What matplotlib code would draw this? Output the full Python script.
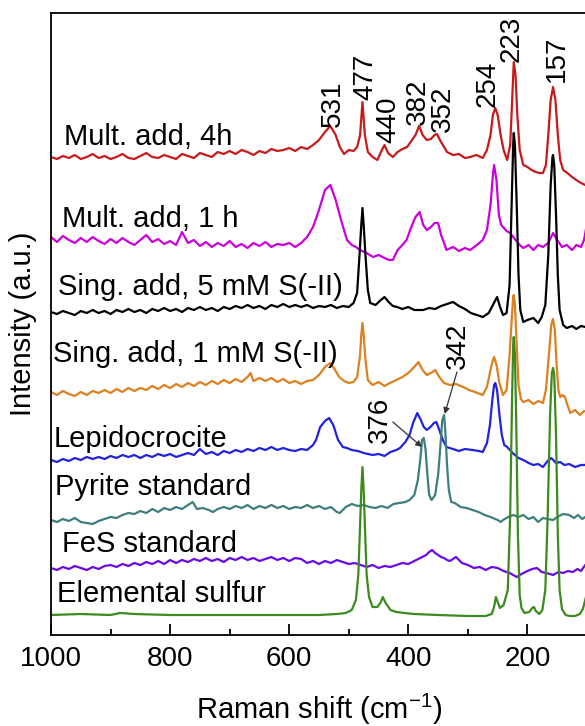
import matplotlib
matplotlib.use("Agg")
import matplotlib.pyplot as plt
from matplotlib.ticker import MultipleLocator

plt.rcParams['font.family'] = ['Liberation Sans', 'DejaVu Sans']
plt.rcParams['mathtext.default'] = 'regular'

# ---- data: (Raman shift cm-1, stacked intensity a.u.) ----
mult_4h = [(1000,478),(990,476),(980,479),(970,477),(960,480),(950,476),(940,478),(930,481),(920,477),(910,479),(900,476),(890,478),(880,481),(870,477),(860,476),(850,479),(840,482),(830,478),(820,477),(810,480),(800,478),(790,476),(780,481),(770,479),(760,477),(750,482),(740,480),(730,478),(720,483),(710,481),(700,484),(690,481),(680,485),(670,483),(660,480),(650,484),(640,482),(630,486),(620,484),(610,485),(600,487),(590,484),(580,488),(570,486),(560,490),(550,495),(540,503),(531,509),(522,500),(515,488),(508,481),(500,485),(492,484),(486,488),(481,500),(477,533),(473,500),(468,483),(460,478),(452,475),(446,483),(440,490),(434,482),(426,478),(418,483),(410,486),(402,488),(395,494),(388,500),(382,509),(376,500),(369,495),(362,496),(356,500),(352,501),(346,494),(340,488),(335,483),(325,480),(315,481),(305,477),(296,478),(286,480),(275,477),(268,485),(262,500),(258,520),(254,527),(250,520),(245,500),(240,485),(234,475),(229,490),(226,530),(223,573),(220,560),(217,520),(213,485),(207,470),(200,468),(193,465),(186,463),(180,462),(174,462),(169,470),(165,500),(161,535),(157,548),(153,535),(149,500),(145,475),(140,465),(133,462),(125,458),(118,455),(110,452),(103,450),(100,450)]

mult_1h = [(1000,398),(990,393),(980,399),(970,395),(960,392),(950,397),(940,393),(930,398),(920,394),(910,391),(900,396),(890,392),(880,397),(870,393),(860,390),(850,395),(840,400),(830,393),(820,396),(810,391),(800,394),(790,390),(780,403),(770,392),(760,395),(750,389),(740,393),(730,388),(720,392),(710,389),(700,394),(690,388),(680,391),(670,387),(660,392),(650,389),(640,393),(630,388),(620,391),(610,390),(600,392),(590,388),(580,392),(570,398),(560,408),(550,425),(540,445),(531,450),(522,435),(513,415),(503,395),(495,390),(488,388),(481,385),(470,382),(459,378),(450,380),(440,377),(432,375),(426,375),(418,385),(410,390),(403,395),(395,408),(388,418),(381,423),(375,410),(369,405),(362,408),(356,412),(350,412),(345,400),(340,392),(336,385),(325,388),(315,384),(305,387),(296,385),(285,390),(275,395),(268,405),(262,430),(258,460),(256,470),(252,455),(248,420),(244,410),(241,408),(235,404),(229,402),(220,395),(213,390),(207,387),(198,390),(190,385),(182,390),(174,388),(165,392),(157,402),(150,395),(142,388),(134,390),(125,385),(118,390),(110,388),(105,395),(102,405),(100,412)]

sing_5mM = [(1000,323),(990,321),(980,324),(970,322),(960,320),(950,324),(940,322),(930,325),(920,322),(910,324),(900,321),(890,325),(880,323),(870,326),(860,323),(850,325),(840,322),(830,326),(820,324),(810,327),(800,324),(790,326),(780,323),(770,327),(760,325),(750,328),(740,325),(730,327),(720,324),(710,328),(700,326),(690,329),(680,327),(670,330),(660,327),(650,329),(640,326),(630,330),(620,328),(610,331),(600,328),(590,330),(580,328),(570,330),(560,327),(550,329),(540,328),(530,330),(520,327),(510,329),(500,328),(492,332),(486,342),(482,380),(479,410),(477,427),(475,410),(472,380),(468,345),(464,332),(455,330),(448,334),(440,338),(433,333),(426,329),(419,328),(410,326),(400,328),(390,325),(375,325),(365,327),(355,326),(345,329),(335,331),(325,333),(315,329),(305,326),(295,322),(285,320),(275,318),(265,322),(258,330),(251,338),(246,328),(241,320),(235,322),(230,350),(227,420),(224,490),(223,502),(221,490),(218,430),(215,360),(212,325),(207,313),(200,315),(190,317),(182,312),(176,318),(170,330),(165,380),(161,450),(158,478),(157,480),(155,470),(152,420),(149,360),(146,325),(140,310),(134,307),(125,309),(118,306),(110,309),(103,308),(100,308)]

sing_1mM = [(1000,243),(990,240),(980,244),(970,241),(960,239),(950,243),(940,240),(930,244),(920,242),(910,245),(900,242),(890,246),(880,243),(870,247),(860,244),(850,247),(840,245),(830,249),(820,246),(810,250),(800,247),(790,251),(780,248),(770,252),(760,249),(750,253),(740,250),(730,254),(720,251),(710,255),(700,252),(690,256),(680,253),(670,258),(665,262),(660,254),(650,257),(640,254),(630,257),(620,253),(610,256),(600,252),(590,254),(580,251),(570,254),(560,255),(550,260),(540,268),(531,272),(524,266),(516,258),(508,254),(500,252),(492,253),(486,258),(481,280),(479,300),(477,312),(475,300),(472,275),(468,255),(460,250),(450,253),(440,249),(431,252),(420,255),(410,258),(400,262),(390,268),(383,273),(376,265),(369,260),(362,262),(355,265),(348,258),(340,252),(330,250),(320,251),(308,248),(298,245),(288,243),(275,240),(268,248),(262,265),(258,275),(256,278),(252,270),(247,252),(241,240),(235,245),(230,280),(226,320),(224,338),(223,340),(221,330),(218,290),(215,250),(211,236),(207,233),(198,235),(190,231),(182,234),(174,232),(169,245),(164,280),(160,310),(157,316),(154,305),(151,270),(148,245),(145,238),(141,240),(137,238),(134,232),(128,222),(120,225),(112,220),(105,224),(100,223)]

lepidocrocite = [(1000,175),(990,173),(980,176),(970,174),(960,177),(950,175),(940,178),(930,176),(920,178),(910,176),(900,179),(890,177),(880,180),(870,178),(860,180),(850,177),(840,180),(830,178),(820,181),(810,179),(800,181),(790,178),(780,180),(770,182),(760,180),(750,186),(740,181),(730,183),(720,180),(710,184),(700,182),(690,185),(680,183),(670,186),(660,184),(650,187),(640,185),(630,188),(620,185),(610,187),(600,185),(590,184),(580,186),(570,185),(560,190),(555,195),(548,208),(540,214),(533,217),(526,210),(518,195),(510,188),(503,187),(495,185),(485,184),(475,182),(460,180),(450,181),(440,179),(430,183),(420,185),(414,187),(405,193),(398,200),(392,212),(385,222),(379,215),(374,208),(369,205),(363,208),(357,212),(353,213),(348,205),(342,195),(336,188),(325,186),(315,184),(305,186),(292,185),(282,184),(275,183),(268,192),(263,210),(259,235),(256,250),(254,252),(251,245),(247,220),(243,200),(239,190),(234,188),(225,182),(215,177),(207,175),(198,172),(190,170),(182,171),(174,168),(166,174),(160,177),(152,172),(145,173),(138,170),(130,171),(120,168),(110,170),(103,170),(100,171)]

pyrite = [(1000,115),(990,113),(980,116),(970,114),(960,117),(950,113),(940,112),(930,111),(920,114),(910,116),(900,118),(890,117),(880,120),(870,122),(860,121),(850,124),(840,122),(830,126),(820,123),(810,127),(800,125),(790,128),(780,126),(770,130),(762,133),(755,126),(745,127),(735,125),(728,123),(720,126),(710,128),(700,126),(690,129),(680,127),(670,130),(660,126),(650,129),(640,127),(630,130),(620,127),(610,129),(600,126),(590,128),(580,127),(570,130),(560,127),(550,129),(540,126),(530,128),(520,123),(515,122),(505,128),(495,131),(485,129),(475,130),(465,128),(455,127),(445,129),(435,127),(425,131),(415,132),(405,133),(398,135),(390,140),(384,155),(380,175),(377,195),(374,197),(371,185),(368,160),(365,140),(361,135),(355,140),(350,160),(346,190),(343,215),(340,220),(338,205),(335,170),(332,145),(328,133),(322,132),(312,128),(302,127),(292,125),(282,123),(272,120),(262,118),(250,115),(245,113),(241,115),(232,118),(224,120),(215,118),(207,120),(198,116),(190,118),(182,113),(174,117),(166,116),(157,115),(150,118),(140,121),(130,120),(122,117),(115,120),(108,116),(103,118),(100,118)]

fes = [(1000,67),(990,65),(980,68),(970,66),(960,69),(950,67),(940,65),(930,68),(920,66),(910,69),(900,70),(890,68),(880,71),(870,69),(860,72),(850,70),(840,73),(830,71),(820,74),(810,71),(800,75),(790,72),(780,75),(770,73),(760,76),(750,74),(740,77),(730,74),(720,76),(710,73),(700,77),(690,75),(680,78),(670,75),(660,77),(650,74),(640,76),(630,78),(620,75),(610,77),(600,74),(590,77),(580,76),(570,72),(560,74),(550,71),(540,74),(530,72),(520,75),(510,73),(500,71),(490,72),(480,70),(470,68),(460,70),(450,67),(440,69),(430,68),(420,70),(410,72),(400,71),(390,74),(380,77),(370,80),(365,83),(360,85),(355,82),(350,80),(345,78),(340,77),(335,75),(330,74),(325,76),(320,78),(315,75),(310,72),(300,70),(290,67),(280,68),(270,65),(260,68),(250,67),(240,64),(230,62),(224,60),(218,58),(210,61),(200,64),(192,66),(184,67),(176,63),(168,62),(157,60),(148,63),(140,62),(132,64),(124,63),(116,66),(110,64),(103,70),(100,70)]

sulfur = [(1000,20),(950,21),(900,20),(884,22),(860,21),(800,20),(700,20),(600,20),(550,20),(520,21),(505,22),(495,25),(488,35),(484,60),(481,110),(479,145),(477,168),(475,145),(473,110),(470,60),(466,38),(460,28),(452,28),(446,33),(443,38),(438,32),(430,25),(420,23),(407,22),(390,21),(350,20),(300,19),(270,19),(260,21),(256,28),(253,38),(250,33),(246,27),(240,30),(233,45),(229,120),(226,230),(224,290),(223,298),(221,280),(219,220),(216,100),(213,40),(210,27),(205,22),(197,23),(192,27),(189,28),(186,24),(180,21),(175,25),(170,45),(166,120),(162,220),(159,262),(157,267),(155,260),(152,200),(149,100),(146,45),(142,26),(136,20),(129,19),(120,19),(112,21),(107,26),(103,35),(100,42)]

series_labels = ["Mult. add, 4h", "Mult. add, 1 h", "Sing. add, 5 mM S(-II)",
                 "Sing. add, 1 mM S(-II)", "Lepidocrocite", "Pyrite standard",
                 "FeS standard", "Elemental sulfur"]
peak_labels = ["531", "477", "440", "382", "352", "254", "223", "157"]
pyrite_peak_labels = ["376", "342"]
x_ticks = [1000, 800, 600, 400, 200]

# ---- drawing ----
spectra = [mult_4h, mult_1h, sing_5mM, sing_1mM, lepidocrocite, pyrite, fes, sulfur]
colors = ["#C81A1A", "#CC00DD", "#000000", "#DD8020", "#2222E0",
          "#3E7E7E", "#6A0AE6", "#3C8A1E"]
label_pos = [(978, 145), (982, 227), (988, 295), (996, 362), (996, 447),
             (994, 495), (982, 552), (990, 602)]   # (x in data, baseline y in px)

fig = plt.figure(figsize=(5.85, 7.26), dpi=100)
H = 726
ax = fig.add_axes([51/585, 91/H, 536/585, 622/H])
ax.set_xlim(1000, 100)
ax.set_ylim(0, 622)

def py(p):  # pixel row -> data y
    return 635 - p

for spec, c in zip(spectra, colors):
    xs = [p[0] for p in spec]
    ys = [p[1] for p in spec]
    ax.plot(xs, ys, color=c, lw=1.6, solid_joinstyle='round')

for lab, (lx, ly) in zip(series_labels, label_pos):
    ax.text(lx, py(ly), lab, fontsize=21, ha='left', va='baseline', color='black')

peak_text_pos = [(526.5, 127), (472.8, 100), (434, 143), (383.8, 125), (342, 132),
                 (266.3, 107), (226, 62), (150.4, 82)]
for lab, (tx, ty) in zip(peak_labels, peak_text_pos):
    ax.text(tx, py(ty), lab, rotation=90, fontsize=20, ha='center', va='bottom')

# pyrite labels with arrows
ax.text(447.6, py(420), pyrite_peak_labels[0], rotation=90, fontsize=20,
        ha='center', va='center')
ax.text(316.6, py(346), pyrite_peak_labels[1], rotation=90, fontsize=20,
        ha='center', va='center')
arrow_kw = dict(arrowstyle='-|>', color='#333333', lw=0.9, mutation_scale=9,
                shrinkA=0, shrinkB=0)
ax.annotate('', xy=(377, py(447)), xytext=(426, py(422)), arrowprops=arrow_kw)
ax.annotate('', xy=(339, py(414)), xytext=(318.3, py(372)), arrowprops=arrow_kw)

ax.set_xticks(x_ticks)
ax.set_xticklabels([str(t) for t in x_ticks])
ax.xaxis.set_minor_locator(MultipleLocator(100))
ax.tick_params(axis='x', which='major', direction='in', length=8, width=1.3,
               labelsize=20, pad=8, top=False)
ax.tick_params(axis='x', which='minor', direction='in', length=4, width=1.3, top=False)
ax.set_yticks([])
for s in ax.spines.values():
    s.set_linewidth(1.3)

ax.set_xlabel("Raman shift (cm$^{-1}$)", fontsize=21, labelpad=14)
ax.set_ylabel("Intensity (a.u.)", fontsize=21, labelpad=10)

fig.savefig("out.png", dpi=100)
